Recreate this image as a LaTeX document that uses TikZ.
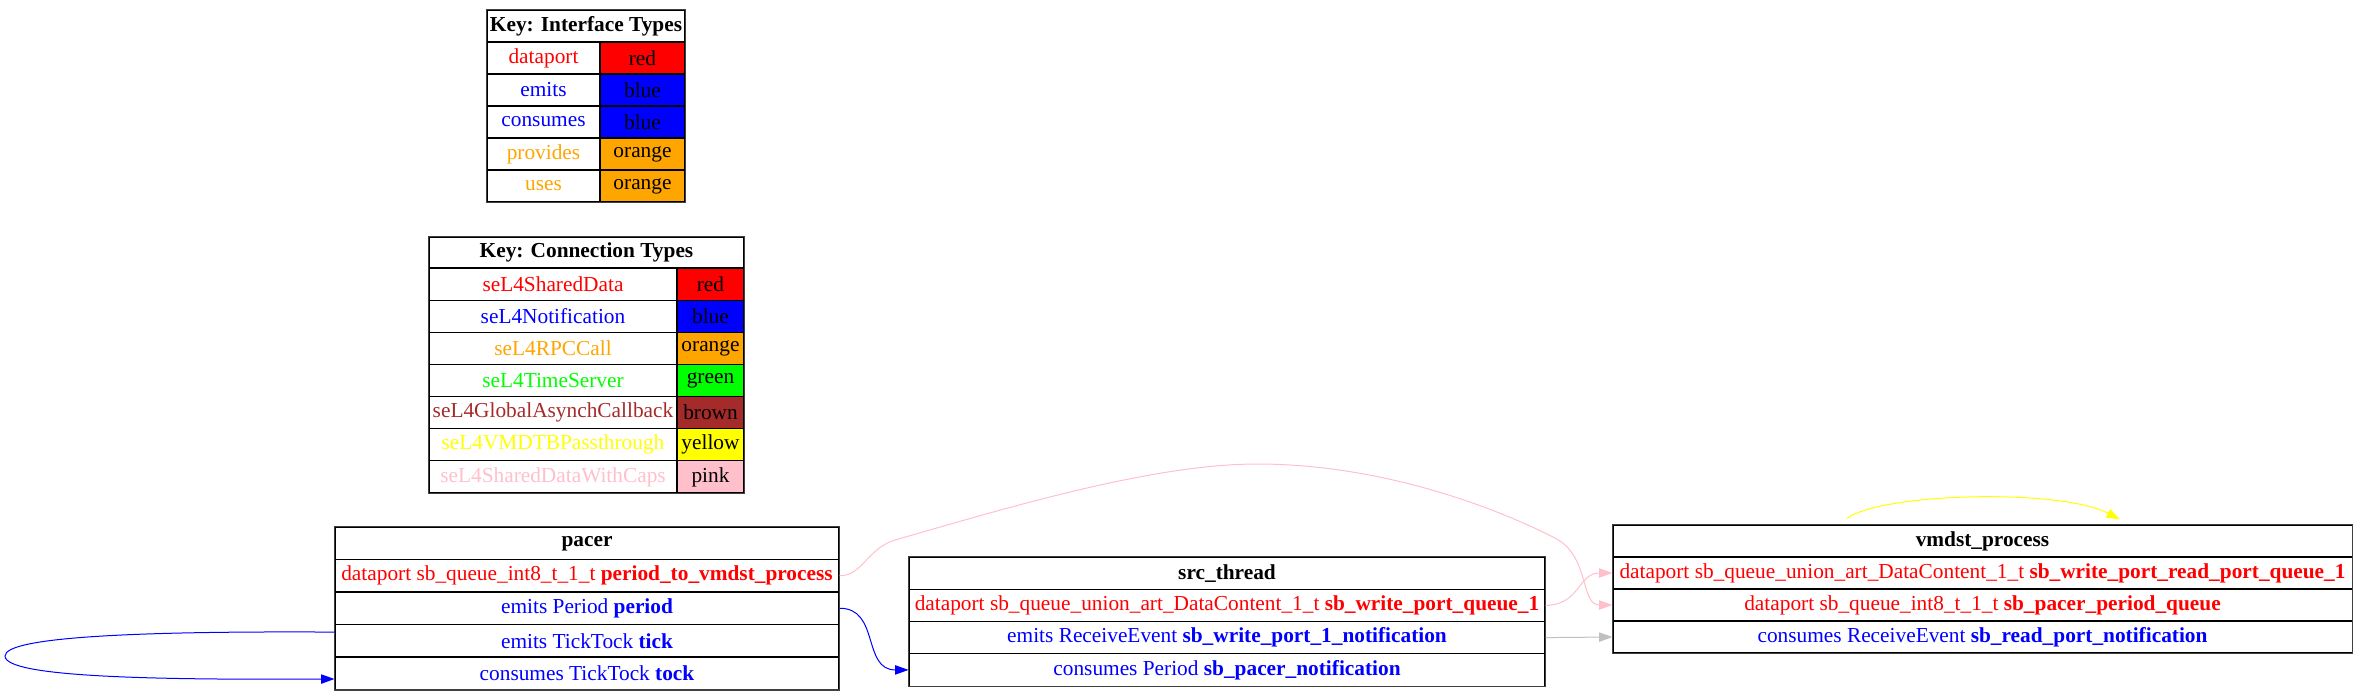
\documentclass[tikz,border=0pt]{standalone}
\usepackage{fontspec}
\setmainfont{Liberation Serif}
\usetikzlibrary{arrows.meta}
\definecolor{gvred}{HTML}{FF0000}
\definecolor{gvblue}{HTML}{0000FF}
\definecolor{gvorange}{HTML}{FFA500}
\definecolor{gvgreen}{HTML}{00FF00}
\definecolor{gvbrown}{HTML}{A52A2A}
\definecolor{gvyellow}{HTML}{FFFF00}
\definecolor{gvpink}{HTML}{FFC0CB}
\definecolor{gvgray}{HTML}{C0C0C0}
\begin{document}
\begin{tikzpicture}[x=0.75pt, y=-0.75pt,
  every node/.style = {shape=rectangle, align=center, draw, line width=0.8pt,
    inner sep=0pt, font=\fontsize{16}{18}\selectfont},
  ifhead/.style = {minimum width=148.5pt, minimum height=24pt},
  iflabel/.style = {minimum width=84.75pt, minimum height=24pt},
  ifswatch/.style = {minimum width=63.75pt, minimum height=24pt},
  cnhead/.style = {minimum width=236.25pt, minimum height=23.25pt},
  cnlabel/.style = {minimum width=186pt, minimum height=24.1pt},
  cnswatch/.style = {minimum width=50.25pt, minimum height=24.1pt},
  pacerrow/.style = {minimum width=378pt, minimum height=24.375pt},
  srcrow/.style = {minimum width=477pt, minimum height=24.19pt},
  vmdstrow/.style = {minimum width=554.25pt, minimum height=24pt},
  link/.style = {-{Triangle[length=10pt,width=7pt]}, line width=0.75pt}]
\useasboundingbox (0,0) rectangle (2368,699);
\node[ifhead] (if-key) at (586,26) {\textbf{Key: Interface Types}};
\node[iflabel, text=gvred] (if-dp) at (543.5,58) {dataport};
\node[ifswatch, fill=gvred] (if-dp-c) at (642.5,58) {red};
\node[iflabel, text=gvblue] (if-em) at (543.5,90) {emits};
\node[ifswatch, fill=gvblue] (if-em-c) at (642.5,90) {blue};
\node[iflabel, text=gvblue] (if-cs) at (543.5,122) {consumes};
\node[ifswatch, fill=gvblue] (if-cs-c) at (642.5,122) {blue};
\node[iflabel, text=gvorange] (if-pr) at (543.5,154) {provides};
\node[ifswatch, fill=gvorange] (if-pr-c) at (642.5,154) {orange};
\node[iflabel, text=gvorange] (if-us) at (543.5,186) {uses};
\node[ifswatch, fill=gvorange] (if-us-c) at (642.5,186) {orange};
\node[cnhead] (cn-key) at (586.5,252.5) {\textbf{Key: Connection Types}};
\node[cnlabel, text=gvred] (cn-sd) at (553,284.1) {seL4SharedData};
\node[cnswatch, fill=gvred] (cn-sd-c) at (710.5,284.1) {red};
\node[cnlabel, text=gvblue] (cn-nt) at (553,316.2) {seL4Notification};
\node[cnswatch, fill=gvblue] (cn-nt-c) at (710.5,316.2) {blue};
\node[cnlabel, text=gvorange] (cn-rpc) at (553,348.4) {seL4RPCCall};
\node[cnswatch, fill=gvorange] (cn-rpc-c) at (710.5,348.4) {orange};
\node[cnlabel, text=gvgreen] (cn-ts) at (553,380.5) {seL4TimeServer};
\node[cnswatch, fill=gvgreen] (cn-ts-c) at (710.5,380.5) {green};
\node[cnlabel, text=gvbrown] (cn-gac) at (553,412.6) {seL4GlobalAsynchCallback};
\node[cnswatch, fill=gvbrown] (cn-gac-c) at (710.5,412.6) {brown};
\node[cnlabel, text=gvyellow] (cn-vmd) at (553,444.8) {seL4VMDTBPassthrough};
\node[cnswatch, fill=gvyellow] (cn-vmd-c) at (710.5,444.8) {yellow};
\node[cnlabel, text=gvpink] (cn-sdc) at (553,476.9) {seL4SharedDataWithCaps};
\node[cnswatch, fill=gvpink] (cn-sdc-c) at (710.5,476.9) {pink};
\node[pacerrow] (pacer) at (587,543.25) {\textbf{pacer}};
\node[pacerrow, text=gvred] (pacer-dp) at (587,575.75) {dataport sb\_queue\_int8\_t\_1\_t \textbf{period\_to\_vmdst\_process}};
\node[pacerrow, text=gvblue] (pacer-period) at (587,608.25) {emits Period \textbf{period}};
\node[pacerrow, text=gvblue] (pacer-tick) at (587,640.75) {emits TickTock \textbf{tick}};
\node[pacerrow, text=gvblue] (pacer-tock) at (587,673.25) {consumes TickTock \textbf{tock}};
\node[srcrow] (src) at (1227,573.1) {\textbf{src\_thread}};
\node[srcrow, text=gvred] (src-dp) at (1227,605.4) {dataport sb\_queue\_union\_art\_DataContent\_1\_t \textbf{sb\_write\_port\_queue\_1}};
\node[srcrow, text=gvblue] (src-notif) at (1227,637.6) {emits ReceiveEvent \textbf{sb\_write\_port\_1\_notification}};
\node[srcrow, text=gvblue] (src-pacer) at (1227,669.9) {consumes Period \textbf{sb\_pacer\_notification}};
\node[vmdstrow] (vmdst) at (1982.5,541) {\textbf{vmdst\_process}};
\node[vmdstrow, text=gvred] (vmdst-wp) at (1982.5,573) {dataport sb\_queue\_union\_art\_DataContent\_1\_t \textbf{sb\_write\_port\_read\_port\_queue\_1}};
\node[vmdstrow, text=gvred] (vmdst-pq) at (1982.5,605) {dataport sb\_queue\_int8\_t\_1\_t \textbf{sb\_pacer\_period\_queue}};
\node[vmdstrow, text=gvblue] (vmdst-notif) at (1982.5,637) {consumes ReceiveEvent \textbf{sb\_read\_port\_notification}};
\draw[line width=1.2pt, draw=black!75] (if-key.north west) rectangle (if-us-c.south east);
\draw[line width=1.2pt, draw=black!75] (cn-key.north west) rectangle (cn-sdc-c.south east);
\draw[line width=1.2pt, draw=black!75] (pacer.north west) rectangle (pacer-tock.south east);
\draw[line width=1.2pt, draw=black!75] (src.north west) rectangle (src-pacer.south east);
\draw[line width=1.2pt, draw=black!75] (vmdst.north west) rectangle (vmdst-notif.south east);
\draw[link, draw=gvblue] ([yshift=6.5pt]pacer-tick.west) .. controls (150,631) and (5,636) .. (5,656) .. controls (5,677) and (150,680) .. ([yshift=-4.3pt]pacer-tock.west);
\draw[link, draw=gvblue] (pacer-period.east) .. controls (880,608) and (862,670) .. (src-pacer.west);
\draw[link, draw=gvpink] (pacer-dp.east) .. controls (862,576) and (868,548) .. (895,540) .. controls (1000,510) and (1150,464) .. (1257,464) .. controls (1370,464) and (1480,500) .. (1555,538) .. controls (1590,556) and (1580,605) .. (vmdst-pq.west);
\draw[link, draw=gvpink] (src-dp.east) .. controls (1580,605) and (1578,573) .. (vmdst-wp.west);
\draw[link, draw=gvgray] (src-notif.east) -- (vmdst-notif.west);
\draw[link, draw=gvyellow] ([xshift=-101.6pt,yshift=4.5pt]vmdst.north) .. controls (1880,493) and (2060,488) .. ([xshift=103pt,yshift=3.75pt]vmdst.north);
\end{tikzpicture}
\end{document}
